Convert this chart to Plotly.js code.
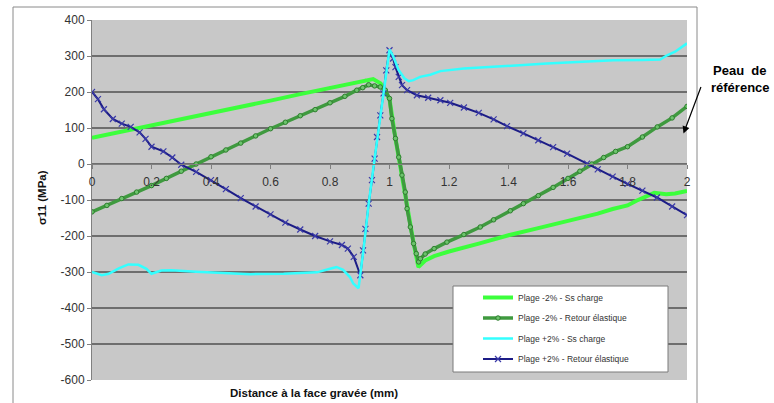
<!DOCTYPE html>
<html>
<head>
<meta charset="utf-8">
<script src="https://cdn.plot.ly/plotly-3.0.1.min.js"></script>
<style>html,body{margin:0;padding:0;background:#fff;}#chart{width:774px;height:403px;}</style>
</head>
<body>
<div id="chart"></div>
<script>
// Series names
const seriesNames = [
  "Plage -2% - Ss charge",
  "Plage -2% - Retour élastique",
  "Plage +2% - Ss charge",
  "Plage +2% - Retour élastique"
];

// Plage -2% - Ss charge
const xMinusLoad = [0, 0.1, 0.2, 0.3, 0.4, 0.5, 0.6, 0.7, 0.8, 0.88, 0.92, 0.945, 0.97, 0.99, 1.0, 1.02, 1.04, 1.06, 1.08, 1.097, 1.12, 1.15, 1.2, 1.3, 1.4, 1.5, 1.6, 1.7, 1.75, 1.8, 1.83, 1.86, 1.89, 1.93, 1.96, 2.0];
const yMinusLoad = [73, 90, 106, 123, 141, 158, 176, 194, 212, 226, 233, 236, 224, 198, 180, 71, -25, -125, -215, -286, -268, -256, -243, -221, -198, -178, -158, -138, -125, -115, -102, -90, -80, -84, -82, -75];

// Plage -2% - Retour élastique
const xMinusElastic = [0, 0.05, 0.1, 0.15, 0.2, 0.25, 0.3, 0.35, 0.4, 0.45, 0.5, 0.55, 0.6, 0.65, 0.7, 0.75, 0.8, 0.85, 0.89, 0.91, 0.93, 0.95, 0.969, 0.986, 1.0, 1.008, 1.02, 1.031, 1.042, 1.053, 1.059, 1.07, 1.081, 1.09, 1.098, 1.104, 1.12, 1.15, 1.193, 1.25, 1.305, 1.35, 1.406, 1.45, 1.5, 1.55, 1.6, 1.64, 1.68, 1.72, 1.76, 1.8, 1.85, 1.9, 1.95, 2.0];
const yMinusElastic = [-133, -115, -96, -78, -60, -40, -20, 0, 20, 39, 58, 78, 98, 116, 134, 151, 170, 188, 205, 212, 220, 217, 214, 205, 182, 126, 71, 19, -31, -78, -124, -175, -221, -249, -272, -263, -250, -235, -217, -196, -175, -155, -130, -110, -88, -65, -40, -20, 0, 18, 35, 48, 75, 103, 128, 160];

// Plage +2% - Ss charge
const xPlusLoad = [0, 0.033, 0.056, 0.09, 0.122, 0.156, 0.183, 0.2, 0.233, 0.267, 0.35, 0.422, 0.533, 0.644, 0.756, 0.8, 0.822, 0.844, 0.867, 0.878, 0.896, 0.913, 0.93, 0.95, 0.97, 0.989, 1.0, 1.012, 1.03, 1.05, 1.065, 1.08, 1.103, 1.137, 1.171, 1.25, 1.305, 1.4, 1.529, 1.65, 1.753, 1.85, 1.91, 1.933, 1.96, 2.0];
const yPlusLoad = [-300, -309, -305, -290, -279, -280, -291, -305, -296, -295, -299, -302, -306, -305, -301, -291, -286, -294, -314, -332, -345, -235, -110, 15, 135, 260, 318, 300, 262, 238, 230, 233, 242, 248, 258, 265, 268, 273, 279, 284, 288, 289, 290, 302, 312, 335];

// Plage +2% - Retour élastique
const xPlusElastic = [0, 0.02, 0.04, 0.07, 0.1, 0.13, 0.16, 0.18, 0.2, 0.24, 0.27, 0.3, 0.35, 0.4, 0.45, 0.5, 0.55, 0.6, 0.65, 0.7, 0.75, 0.8, 0.84, 0.86, 0.88, 0.902, 0.911, 0.919, 0.93, 0.941, 0.95, 0.958, 0.969, 0.98, 0.989, 1.0, 1.012, 1.02, 1.031, 1.042, 1.059, 1.092, 1.13, 1.171, 1.204, 1.25, 1.3, 1.35, 1.395, 1.45, 1.5, 1.55, 1.597, 1.664, 1.7, 1.75, 1.8, 1.85, 1.899, 1.95, 2.0];
const yPlusElastic = [200, 180, 152, 125, 112, 103, 88, 70, 48, 35, 18, -2, -22, -45, -70, -95, -118, -140, -163, -182, -200, -215, -225, -235, -258, -309, -240, -180, -110, -45, 15, 75, 135, 196, 260, 316, 293, 269, 242, 219, 205, 191, 184, 177, 170, 157, 142, 124, 105, 85, 66, 47, 29, 1, -15, -35, -55, -74, -93, -118, -142];

// Axis ticks
const xTicks = [0, 0.2, 0.4, 0.6, 0.8, 1, 1.2, 1.4, 1.6, 1.8, 2];
const xTickLabels = ["0", "0.2", "0.4", "0.6", "0.8", "1", "1.2", "1.4", "1.6", "1.8", "2"];
const yTicks = [-600, -500, -400, -300, -200, -100, 0, 100, 200, 300, 400];
const yTickLabels = ["-600", "-500", "-400", "-300", "-200", "-100", "0", "100", "200", "300", "400"];

// Texts
const xTitle = "Distance à la face gravée (mm)";
const yTitle = "σ11 (MPa)";
const noteLine1 = "Peau&nbsp;&nbsp;de";
const noteLine2 = "référence";

const FONT = "Liberation Sans, Arial, sans-serif";

const traceMinusLoad = {
  x: xMinusLoad, y: yMinusLoad, name: seriesNames[0], type: "scatter", mode: "lines+markers",
  line: {color: "#3cff3c", width: 4},
  marker: {symbol: "triangle-up", size: 3, color: "#3cff3c"},
  legendgroup: "a", legendrank: 1
};
const traceMinusElastic = {
  x: xMinusElastic, y: yMinusElastic, name: seriesNames[1], type: "scatter", mode: "lines+markers",
  line: {color: "#3f9a3f", width: 3.5},
  marker: {symbol: "circle", size: 4.5, color: "#6cc46c", line: {color: "#2e7d2e", width: 1}},
  legendgroup: "b", legendrank: 2
};
const tracePlusLoad = {
  x: xPlusLoad, y: yPlusLoad, name: seriesNames[2], type: "scatter", mode: "lines",
  line: {color: "#33ffff", width: 2.5},
  legendgroup: "c", legendrank: 3
};
const tracePlusElastic = {
  x: xPlusElastic, y: yPlusElastic, name: seriesNames[3], type: "scatter", mode: "lines+markers",
  line: {color: "#1c1c86", width: 2},
  marker: {symbol: "x-thin", size: 6, color: "#3a3aa8", line: {color: "#3a3aa8", width: 1.2}},
  legendgroup: "d", legendrank: 4
};

// cyan drawn last so it shows on the shared spike, as in the reference
const traces = [traceMinusLoad, traceMinusElastic, tracePlusElastic, tracePlusLoad];

const px2x = p => (p - 92) / 595;
const px2y = p => (380 - p) / 360;

const layout = {
  width: 774, height: 403,
  margin: {l: 92, r: 87, t: 20, b: 23},
  paper_bgcolor: "#ffffff",
  plot_bgcolor: "#c8c8c8",
  font: {family: FONT, size: 12, color: "#333333"},
  showlegend: true,
  legend: {
    x: px2x(478), y: px2y(283), xanchor: "left", yanchor: "top",
    bgcolor: "rgba(0,0,0,0)", borderwidth: 0,
    font: {family: FONT, size: 8.5, color: "#333333"},
    traceorder: "grouped", tracegroupgap: 1.5
  },
  xaxis: {
    range: [0, 2], tickmode: "array", tickvals: xTicks, ticktext: xTickLabels,
    anchor: "free", position: 0.6,
    showgrid: false, zeroline: false,
    showline: true, linecolor: "#808080", linewidth: 1,
    ticks: "outside", ticklen: 4, tickcolor: "#808080",
    tickfont: {family: FONT, size: 12, color: "#333333"},
    ticklabelstandoff: 3
  },
  yaxis: {
    range: [-600, 400], tickmode: "array", tickvals: yTicks, ticktext: yTickLabels,
    showgrid: true, gridcolor: "#6e6e6e", gridwidth: 1.5,
    zeroline: false,
    showline: true, linecolor: "#808080", linewidth: 1,
    ticks: "outside", ticklen: 4, tickcolor: "#808080",
    tickfont: {family: FONT, size: 12, color: "#333333"}
  },
  shapes: [
    {type: "rect", xref: "paper", yref: "paper", x0: px2x(13), x1: px2x(697), y0: px2y(7), y1: px2y(420),
     line: {color: "#8a8a8a", width: 1}, fillcolor: "rgba(0,0,0,0)", layer: "above"},
    {type: "rect", xref: "paper", yref: "paper", x0: px2x(453), x1: px2x(668), y0: px2y(372), y1: px2y(286),
     line: {color: "#7a7a7a", width: 1}, fillcolor: "#ffffff", layer: "above"}
  ],
  annotations: [
    {xref: "paper", yref: "paper", x: px2x(313.5), y: px2y(393), text: "<b>" + xTitle + "</b>",
     showarrow: false, xanchor: "center", yanchor: "middle", font: {family: FONT, size: 11.5, color: "#111"}},
    {xref: "paper", yref: "paper", x: px2x(42), y: px2y(197), text: "<b>" + yTitle + "</b>", textangle: -90,
     showarrow: false, xanchor: "center", yanchor: "middle", font: {family: FONT, size: 11.5, color: "#111"}},
    {xref: "paper", yref: "paper", x: px2x(711), y: px2y(70.5), text: "<b>" + noteLine1 + "</b>",
     showarrow: false, xanchor: "left", yanchor: "middle", font: {family: FONT, size: 13, color: "#000"}},
    {xref: "paper", yref: "paper", x: px2x(709), y: px2y(87), text: "<b>" + noteLine2 + "</b>",
     showarrow: false, xanchor: "left", yanchor: "middle", font: {family: FONT, size: 13, color: "#000"}},
    {xref: "paper", yref: "paper", x: px2x(683.5), y: px2y(133.5), text: "",
     showarrow: true, ax: 18, ay: -48, arrowhead: 2, arrowsize: 1.2, arrowwidth: 1.2, arrowcolor: "#000", standoff: 0}
  ]
};

Plotly.newPlot("chart", traces, layout, {staticPlot: true, displayModeBar: false});
</script>
</body>
</html>
